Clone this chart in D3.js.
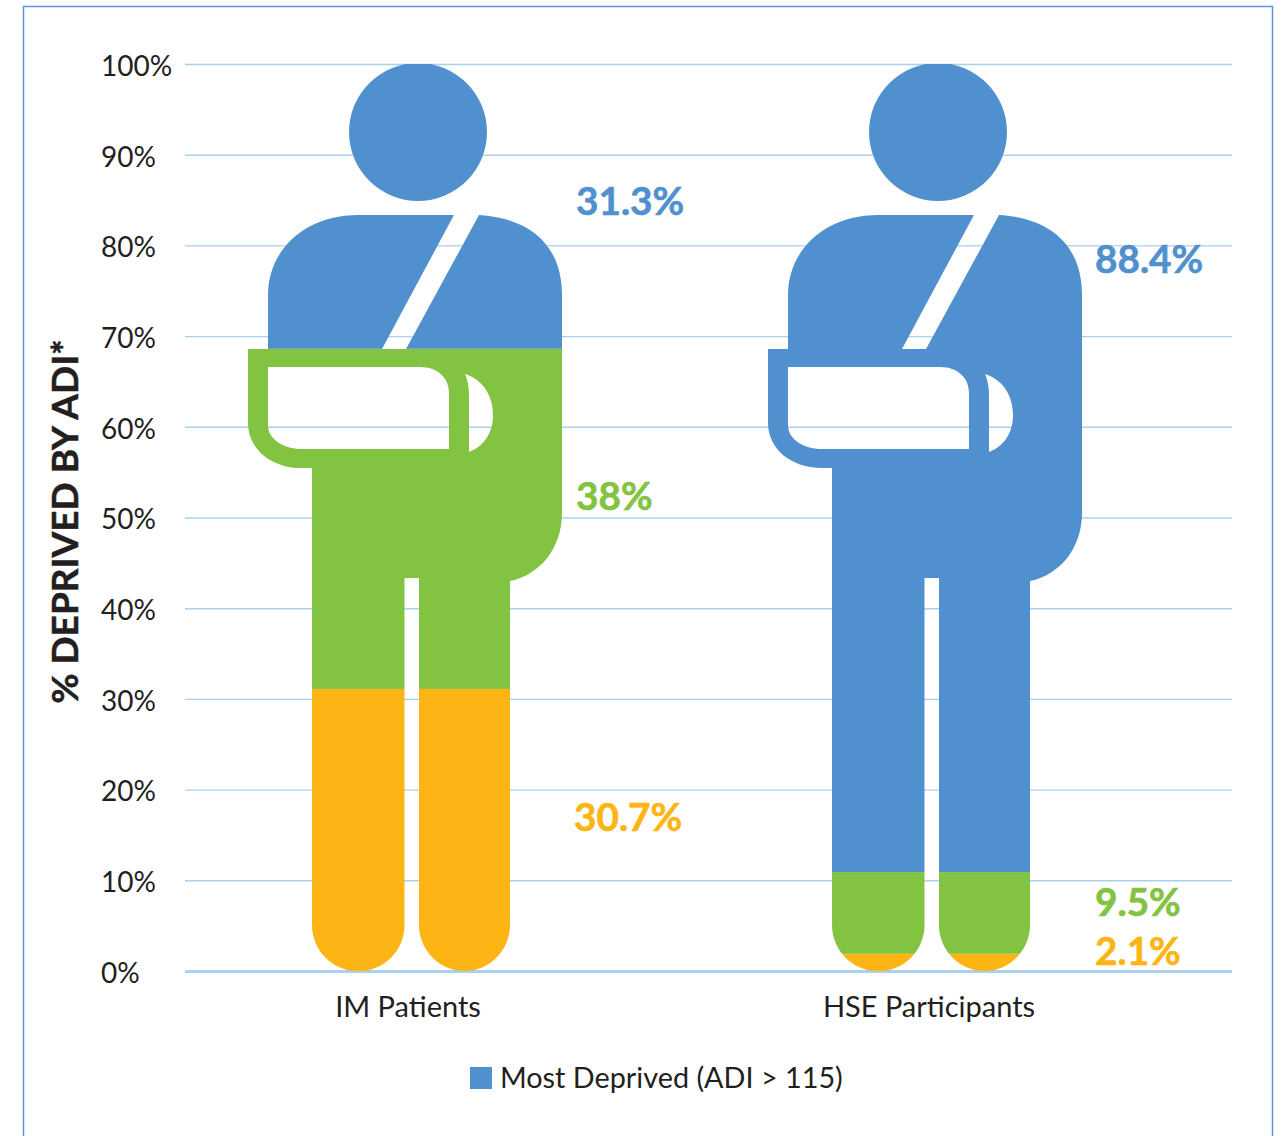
<!DOCTYPE html>
<html>
<head>
<meta charset="utf-8">
<script src="https://d3js.org/d3.v7.min.js"></script>
<style>
  body { margin: 0; background: #fff; }
  text { font-family: Lato, "Open Sans", sans-serif; fill: #231f20; }
</style>
</head>
<body>
<div id="chart"></div>
<script>
const categories = ["IM Patients", "HSE Participants"];
const tickValues = [0, 10, 20, 30, 40, 50, 60, 70, 80, 90, 100];
const seriesKeys = ["least", "middle", "most"];
// heights of the coloured bands as drawn in the figure
const leastDeprived = [31.1, 1.9];
const middleDeprived = [37.5, 9.0];
const mostDeprived = [31.4, 89.1];
const printedMost = ["31.3%", "88.4%"];
const printedMiddle = ["38%", "9.5%"];
const printedLeast = ["30.7%", "2.1%"];
const legendLabel = "Most Deprived (ADI > 115)";
const yTitle = "% DEPRIVED BY ADI*";

const colors = { most: "#5190ce", middle: "#82c341", least: "#fdb515" };
const gridColor = "#a9d0ef";

const width = 1284, height = 1136;

const svg = d3.select("#chart")
  .append("svg")
  .attr("width", width)
  .attr("height", height)
  .style("display", "block");

// frame, open at the bottom
svg.append("path")
  .attr("d", "M23.5," + height + "V6.5H1272.5V" + height)
  .attr("fill", "none")
  .attr("stroke", "#5b94d6")
  .attr("stroke-width", 1.5);

const y = d3.scaleLinear().domain([0, 100]).range([971, 64]);
const x = d3.scalePoint().domain(categories).range([407, 927]);

// gridlines and left aligned tick labels
const yAxis = svg.append("g")
  .attr("transform", "translate(185,0)")
  .call(d3.axisLeft(y).tickValues(tickValues).tickSize(-1047).tickFormat(d => d + "%"));
yAxis.select(".domain").remove();
yAxis.selectAll("line")
  .attr("stroke", gridColor)
  .attr("stroke-width", d => d === 0 ? 3 : 1.4);
yAxis.selectAll("text")
  .attr("x", -84)
  .attr("y", 1.5)
  .attr("dy", "0.35em")
  .attr("text-anchor", "start")
  .style("font-size", "28px")
  .style("font-family", "Lato, sans-serif")
  .style("fill", "#231f20");

const xAxis = svg.append("g")
  .attr("transform", "translate(0,971)")
  .call(d3.axisBottom(x).tickSize(0));
xAxis.select(".domain").remove();
xAxis.selectAll("text")
  .attr("x", (d, i) => i ? 1.5 : 0.5)
  .attr("y", 36)
  .attr("dy", "0.35em")
  .style("font-size", "29px")
  .style("font-family", "Lato, sans-serif")
  .style("fill", "#231f20");

svg.append("text")
  .attr("transform", "translate(78,521.5) rotate(-90)")
  .attr("text-anchor", "middle")
  .style("font-size", "37px")
  .style("font-weight", 700)
  .style("stroke", "#231f20")
  .style("stroke-width", 0.5)
  .text(yTitle);

// person with a sling, in its own coordinates: origin at sling left / top of head
const personPath =
  "M101,68a69,69 0 1,0 138,0a69,69 0 1,0 -138,0Z" +
  "M20,285L20,231C20,186 57,151 110,151L206,151L134,285L158,285L231,151" +
  "C282,154 314,181 314,231L314,449C314,484 292,511 262,517L262,861" +
  "A45.5,46 0 0 1 171,861L171,514L156.5,514L156.5,861A46,46 0 0 1 64,861" +
  "L64,404L54,404C22,404 0,384 0,359L0,285Z" +
  "M20,303L172,303C190,303 201,314 201,329L201,385L54,385C35,385 20,375 20,361Z" +
  "M217,310C236,316 245,333 245,351C245,369 236,382 221,388L221,333C221,323 220,317 217,310Z";

const personLeft = 159;
const personWidth = 314;

const rows = categories.map((name, i) => ({
  name: name,
  least: leastDeprived[i],
  middle: middleDeprived[i],
  most: mostDeprived[i]
}));
const stacked = d3.stack().keys(seriesKeys)(rows);

const defs = svg.append("defs");
categories.forEach((name, i) => {
  defs.append("clipPath")
    .attr("id", "person" + i)
    .append("path")
    .attr("d", personPath)
    .attr("clip-rule", "evenodd")
    .attr("transform", "translate(" + (x(name) - personLeft) + "," + y(100) + ")");

  const g = svg.append("g").attr("clip-path", "url(#person" + i + ")");
  stacked.forEach(series => {
    const d = series[i];
    g.append("rect")
      .attr("x", x(name) - personLeft)
      .attr("width", personWidth)
      .attr("y", y(d[1]))
      .attr("height", y(d[0]) - y(d[1]))
      .attr("fill", colors[series.key]);
  });
});

// printed percentages beside each figure
const notes = [
  { key: "most", text: printedMost[0], cat: 0, dx: 169, at: 84.9 },
  { key: "middle", text: printedMiddle[0], cat: 0, dx: 169, at: 52.35 },
  { key: "least", text: printedLeast[0], cat: 0, dx: 167, at: 16.9 },
  { key: "most", text: printedMost[1], cat: 1, dx: 168, at: 78.4 },
  { key: "middle", text: printedMiddle[1], cat: 1, dx: 168, at: 7.6 },
  { key: "least", text: printedLeast[1], cat: 1, dx: 168, at: 2.1 }
];
svg.selectAll(".note")
  .data(notes)
  .enter()
  .append("text")
  .attr("class", "note")
  .attr("x", d => x(categories[d.cat]) + d.dx)
  .attr("y", d => y(d.at))
  .attr("dy", "0.35em")
  .style("font-size", "38.7px")
  .style("font-weight", 700)
  .style("fill", d => colors[d.key])
  .style("stroke", d => colors[d.key])
  .style("stroke-width", 0.6)
  .text(d => d.text);

// legend
svg.append("rect")
  .attr("x", 470)
  .attr("y", 1067)
  .attr("width", 22)
  .attr("height", 22)
  .attr("fill", colors.most);
svg.append("text")
  .attr("x", 500)
  .attr("y", 1078)
  .attr("dy", "0.35em")
  .style("font-size", "28.8px")
  .text(legendLabel);
</script>
</body>
</html>
